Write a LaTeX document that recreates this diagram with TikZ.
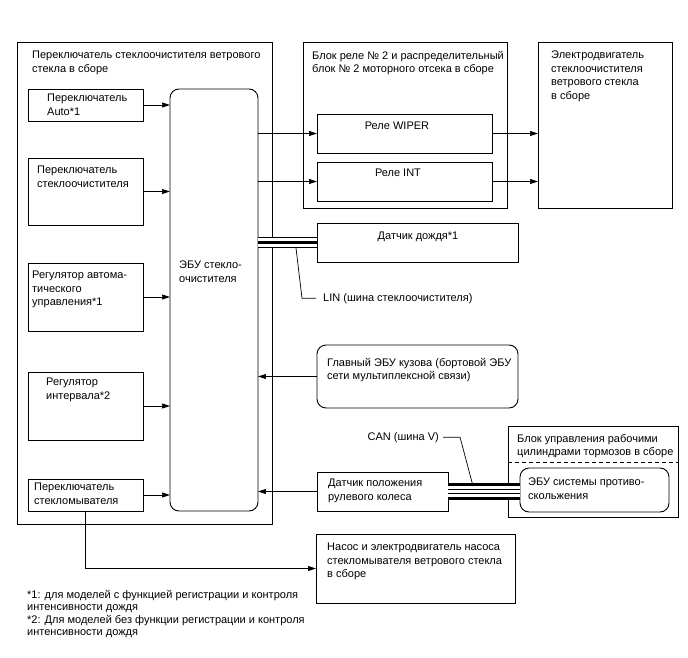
\documentclass[tikz,border=0pt]{standalone}
\usepackage{fontspec}
\setmainfont{Liberation Sans}
\usetikzlibrary{positioning, calc, arrows.meta}

\begin{document}
\begin{tikzpicture}[
    x=1pt, y=-1pt,
    font=\fontsize{11}{13.5}\selectfont,
    box/.style={
        draw,
        line width=0.9pt,
        inner sep=0pt,
        outer sep=0pt
    },
    rbox/.style={
        box,
        rounded corners=9pt
    },
    txt/.style={
        inner sep=0pt,
        align=left,
        anchor=north west
    },
    ctxt/.style={
        inner sep=0pt,
        anchor=base
    },
    conn/.style={line width=0.9pt},
    lead/.style={line width=0.7pt},
    >={Stealth[length=8pt,width=5pt,inset=0.5pt]}
]
\useasboundingbox (0,0) rectangle (688,658);

% ==========================================
% ASSEMBLIES
% ==========================================
\node[box, minimum width=255pt, minimum height=482pt] (wsw) at (144.5,283) {};
\node[box, minimum width=204pt, minimum height=166pt] (relayblk) at (405,125) {};
\node[box, minimum width=134pt, minimum height=166pt] (motor) at (605,125) {};
\node[box, minimum width=170pt, minimum height=91pt] (brake) at (593,471.5) {};

\node[txt] (wswt) at (32,51) {Переключатель стеклоочистителя ветрового\\стекла в сборе};
\node[txt] (relayt) at (312,51) {Блок реле № 2 и распределительный\\блок № 2 моторного отсека в сборе};
\node[txt] (motort) at (551,51) {Электродвигатель\\стеклоочистителя\\ветрового стекла\\в сборе};
\node[txt] (braket) at (517,434) {Блок управления рабочими\\цилиндрами тормозов в сборе};
\draw[dash pattern=on 4pt off 3pt, line width=0.9pt]
    ($(brake.north west)+(0,36)$) -- ($(brake.north east)+(0,36)$);

% ==========================================
% SWITCHES AND ECU
% ==========================================
\node[box, minimum width=115pt, minimum height=32pt] (auto) at (85.5,105) {};
\node[box, minimum width=115pt, minimum height=67pt] (wswitch) at (85.5,191.5) {};
\node[box, minimum width=115pt, minimum height=68pt] (autoreg) at (85.5,297) {};
\node[box, minimum width=115pt, minimum height=68pt] (intreg) at (85.5,406) {};
\node[box, minimum width=115pt, minimum height=32pt] (washsw) at (85.5,495) {};
\node[rbox, minimum width=88pt, minimum height=422pt] (ecu) at (214,300) {};

\node[txt] (autot) at (47,94) {Переключатель\\Auto*1};
\node[txt] (wswitcht) at (37,166) {Переключатель\\стеклоочистителя};
\node[txt] (autoregt) at (32,271) {Регулятор автома-\\тического\\управления*1};
\node[txt] (intregt) at (46,378) {Регулятор\\интервала*2};
\node[txt] (washswt) at (34,483) {Переключатель\\стекломывателя};
\node[txt] (ecut) at (179,261) {ЭБУ стекло-\\очистителя};

% ==========================================
% OTHER UNITS
% ==========================================
\node[box, minimum width=175pt, minimum height=39pt] (wiper) at (404.5,133.5) {};
\node[box, minimum width=175pt, minimum height=39pt] (int) at (404.5,181.5) {};
\node[box, minimum width=201pt, minimum height=39pt] (rain) at (417.5,242.5) {};
\node[rbox, minimum width=201pt, minimum height=63pt] (body) at (417.5,376.5) {};
\node[box, minimum width=131pt, minimum height=39pt] (steer) at (382.5,491.5) {};
\node[rbox, minimum width=149pt, minimum height=44pt] (abs) at (594.5,490) {};
\node[box, minimum width=199pt, minimum height=69pt] (pump) at (415.5,568.5) {};

\node[ctxt] (wipert) at (397,130) {Реле WIPER};
\node[ctxt] (intt) at (398,176) {Реле INT};
\node[ctxt] (raint) at (418,239) {Датчик дождя*1};
\node[txt] (bodyt) at (327,358) {Главный ЭБУ кузова (бортовой ЭБУ\\сети мультиплексной связи)};
\node[txt] (steert) at (328,479) {Датчик положения\\рулевого колеса};
\node[txt] (abst) at (528,478) {ЭБУ системы противо-\\скольжения};
\node[txt] (pumpt) at (327,543) {Насос и электродвигатель насоса\\стекломывателя ветрового стекла\\в сборе};

% Connecting Arrows
\draw[conn, ->] (auto.east) -- (auto.east -| ecu.west);
\draw[conn, ->] (wswitch.east) -- (wswitch.east -| ecu.west);
\draw[conn, ->] (autoreg.east) -- (autoreg.east -| ecu.west);
\draw[conn, ->] (intreg.east) -- (intreg.east -| ecu.west);
\draw[conn, ->] (washsw.east) -- (washsw.east -| ecu.west);
\draw[conn, ->] (ecu.east |- wiper.west) -- (wiper.west);
\draw[conn, ->] (ecu.east |- int.west) -- (int.west);
\draw[conn, ->] (wiper.east) -- (wiper.east -| motor.west);
\draw[conn, ->] (int.east) -- (int.east -| motor.west);
\draw[conn, ->] (body.west) -- (body.west -| ecu.east);
\draw[conn, ->] (steer.west) -- (steer.west -| ecu.east);
\draw[conn, ->] (washsw.south) -- (washsw.south |- pump.west) -- (pump.west);

% ==========================================
% BUS LINES
% ==========================================
% LIN
\draw[line width=11.5pt] (ecu.east |- rain.west) -- (rain.west);
\draw[line width=9pt, white] (ecu.east |- rain.west) -- (rain.west);
\draw[line width=3.5pt] (ecu.east |- rain.west) -- (rain.west);
\node[txt, anchor=base west] (lint) at (323,301) {LIN (шина стеклоочистителя)};
\coordinate (linpt) at (296,248);
\draw[lead] ([xshift=-7pt]lint.west) -- ++(-14,0) -- (linpt);

% CAN
\draw[line width=17pt] (steer.east) -- (steer.east -| abs.west);
\draw[line width=11pt, white] (steer.east) -- (steer.east -| abs.west);
\draw[line width=5pt] (steer.east) -- (steer.east -| abs.west);
\draw[line width=3pt, white] (steer.east) -- (steer.east -| abs.west);
\node[txt, anchor=base east] (cant) at (439,440) {CAN (шина V)};
\coordinate (canpt) at (473,486);
\draw[lead] ([xshift=4pt]cant.east) -- ++(17,0) -- (canpt);

% Footnotes
\node[txt, font=\fontsize{11}{12.5}\selectfont] (notes) at (27,590)
    {*1: для моделей с функцией регистрации и контроля\\интенсивности дождя\\*2: Для моделей без функции регистрации и контроля\\интенсивности дождя};

\end{tikzpicture}
\end{document}
